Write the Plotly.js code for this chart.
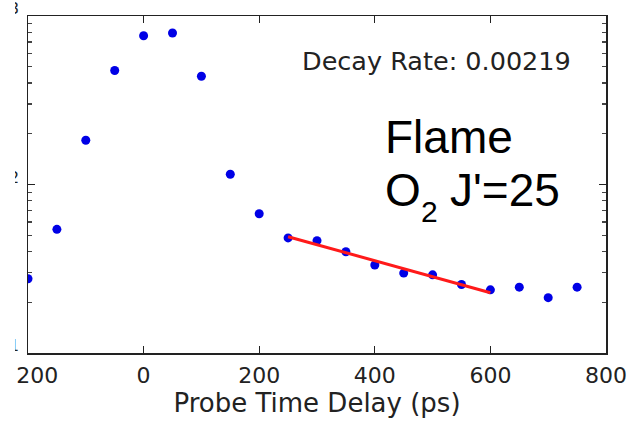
<!DOCTYPE html>
<html>
<head>
<meta charset="utf-8">
<script src="https://cdn.plot.ly/plotly-3.0.1.min.js"></script>
<style>html,body{margin:0;padding:0;background:#fff;}#chart{width:635px;height:424px;}</style>
</head>
<body>
<div id="chart"></div>
<script>
// Probe time delay (ps)
const delays = [-200, -150, -100, -50, 0, 50, 100, 150, 200, 250, 300, 350, 400, 450, 500, 550, 600, 650, 700, 750];
// Signal (log scale)
const signal = [27.6, 54.2, 183, 475, 764, 793, 439, 115, 67.1, 48.2, 46.4, 39.9, 33.3, 29.8, 29.1, 25.5, 23.7, 24.6, 21.3, 24.6];
// Exponential fit over 250-600 ps
const fitX = [250, 600];
const fitY = [49.0, 22.8];
const decayRate = "0.00219";
const xTickVals = [-200, 0, 200, 400, 600, 800];
const xTickText = ["\u2212200", "0", "200", "400", "600", "800"];
const yTickVals = [10, 100, 1000];
const yTickText = ["10<sup>1</sup>", "10<sup>2</sup>", "10<sup>3</sup>"];

const traces = [
  {x: delays, y: signal, type: 'scatter', mode: 'markers',
   marker: {color: '#0000e6', size: 9}, hoverinfo: 'x+y'},
  {x: fitX, y: fitY, type: 'scatter', mode: 'lines',
   line: {color: '#ff1a1a', width: 3}}
];

const axisCommon = {
  showline: true, linecolor: '#222', linewidth: 1.5, mirror: 'ticks',
  ticks: 'inside', ticklen: 7, tickwidth: 1.3, tickcolor: '#222',
  showgrid: false, zeroline: false, ticklabeloverflow: 'allow',
  tickfont: {family: 'DejaVu Sans', size: 22, color: '#222'}
};

const layout = {
  width: 635, height: 424,
  margin: {l: 28, r: 29, t: 16, b: 71},
  paper_bgcolor: '#fff', plot_bgcolor: '#fff',
  showlegend: false,
  xaxis: Object.assign({}, axisCommon, {
    range: [-200, 800], tickvals: xTickVals, ticktext: xTickText,
    ticklabelstandoff: 2,
    title: {text: 'Probe Time Delay (ps)', standoff: 6,
            font: {family: 'DejaVu Sans', size: 26, color: '#222'}}
  }),
  yaxis: Object.assign({}, axisCommon, {
    type: 'log', range: [1, 3], tickvals: yTickVals, ticktext: yTickText,
    ticklabelstandoff: 3,
    minor: {ticks: 'inside', ticklen: 4, tickcolor: '#444', dtick: 'D1'}
  }),
  annotations: [
    {xref: 'paper', yref: 'paper', x: 0.943, y: 0.866, xanchor: 'right', yanchor: 'middle',
     text: 'Decay Rate: ' + decayRate, showarrow: false,
     font: {family: 'DejaVu Sans', size: 25.5, color: '#222'}},
    {xref: 'paper', yref: 'paper', x: 0.614, y: 0.641, xanchor: 'left', yanchor: 'middle',
     text: 'Flame', showarrow: false,
     font: {family: 'Liberation Sans', size: 46, color: '#000'}},
    {xref: 'paper', yref: 'paper', x: 0.614, y: 0.484, xanchor: 'left', yanchor: 'middle',
     text: 'O', showarrow: false,
     font: {family: 'Liberation Sans', size: 46, color: '#000'}},
    {xref: 'paper', yref: 'paper', x: 0.677, y: 0.420, xanchor: 'left', yanchor: 'middle',
     text: '2', showarrow: false,
     font: {family: 'Liberation Sans', size: 30, color: '#000'}},
    {xref: 'paper', yref: 'paper', x: 0.727, y: 0.484, xanchor: 'left', yanchor: 'middle',
     text: "J'=25", showarrow: false,
     font: {family: 'Liberation Sans', size: 46, color: '#000'}}
  ],
  shapes: [
    {type: 'rect', xref: 'paper', yref: 'paper', layer: 'above',
     x0: -0.06, x1: -0.0225, y0: -0.13, y1: 1.06,
     fillcolor: '#fff', line: {width: 0}}
  ]
};

Plotly.newPlot('chart', traces, layout, {displayModeBar: false, staticPlot: true});
</script>
</body>
</html>
